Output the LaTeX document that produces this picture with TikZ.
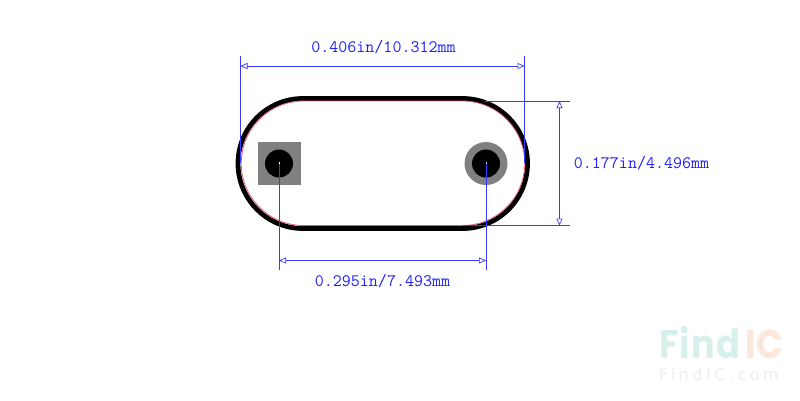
\documentclass[tikz,border=0pt]{standalone}
\usepackage{fontspec}
\usetikzlibrary{arrows.meta}
\newfontfamily\wmbold[LetterSpace=4]{Poppins Bold}
\newfontfamily\wmthin[LetterSpace=22]{DejaVu Sans}
\definecolor{dimblue}{RGB}{56,56,255}
\definecolor{dimtext}{RGB}{30,30,255}
\definecolor{padgray}{RGB}{128,128,128}
\definecolor{silk}{RGB}{226,90,120}
\definecolor{wmteal}{RGB}{216,240,236}
\definecolor{wmorange}{RGB}{252,232,218}
\definecolor{wmgray}{RGB}{238,238,238}
\tikzset{
  x=1pt,y=-1pt,
  dimline/.style={draw=dimblue,line width=0.9pt,{Triangle[open,length=7pt,width=6pt,line width=0.7pt]}-{Triangle[open,length=7pt,width=6pt,line width=0.7pt]}},
  extline/.style={draw=dimblue,line width=0.8pt},
  dimlabel/.style={text=dimtext,font=\ttfamily\fontsize{17.5}{17}\selectfont,inner sep=0pt,anchor=center},
  wmlogo/.style={font=\wmbold\fontsize{40}{40}\selectfont,inner sep=0pt,anchor=base west,text height=30pt,text depth=0pt,xscale=0.88,transform shape},
  outline/.style={draw=black,line width=4.8pt},
  courtyard/.style={draw=silk,line width=0.8pt},
  padshape/.style={fill=padgray,draw=none},
  drillhole/.style={fill=black,draw=none,circle,minimum size=28pt,inner sep=0pt},
  padmark/.style={fill=white,draw=none,minimum width=1pt,minimum height=2pt,inner sep=0pt}
}
\begin{document}
\begin{tikzpicture}
\useasboundingbox (0,0) rectangle (800,400);
% watermark
\node[wmlogo,text=wmteal] (wmfind) at (659,358.5) {Find};
\node[wmlogo,text=wmorange] (wmic) at (745,358.5) {IC};
\node[text=wmgray,font=\wmthin\fontsize{16}{16}\selectfont,inner sep=0pt,anchor=center,text height=12pt,text depth=0pt] (wmurl) at (719,374) {FindIC.com};
% outlines
\draw[outline] (303,98.5) -- (462.5,98.5) arc[start angle=-90,end angle=90,radius=65] -- (303,228.5) arc[start angle=90,end angle=270,radius=65] -- cycle;
\draw[courtyard] (303.5,101) -- (462.5,101) arc[start angle=-90,end angle=90,radius=62.25] -- (303.5,225.5) arc[start angle=90,end angle=270,radius=62.25] -- cycle;
% pads
\node[padshape,minimum width=43.5pt,minimum height=43pt,inner sep=0pt] (padone) at (279.25,163.5) {};
\node[padshape,circle,minimum size=43pt,inner sep=0pt] (padtwo) at (486,163.5) {};
\node[drillhole] (holeone) at (279,163.5) {};
\node[drillhole] (holetwo) at (486,163.5) {};
% coordinates
\coordinate (wl) at (240.5,56);
\coordinate (wlb) at (240.5,163);
\coordinate (wr) at (524.5,56);
\coordinate (wrb) at (524.5,163);
\coordinate (wa) at (240.5,66);
\coordinate (wb) at (524.5,66);
\coordinate (ht) at (484,101);
\coordinate (hte) at (570,101);
\coordinate (hb) at (463,225.5);
\coordinate (hbe) at (570,225.5);
\coordinate (ha) at (559.5,101);
\coordinate (hc) at (559.5,225.5);
\coordinate (pl) at (279,163.5);
\coordinate (ple) at (279,270);
\coordinate (pr) at (486,163.5);
\coordinate (pre) at (486,270);
\coordinate (pa) at (279,260.5);
\coordinate (pb) at (486,260.5);
% extension lines
\draw[extline] (wl) -- (wlb);
\draw[extline] (wr) -- (wrb);
\draw[extline] (ht) -- (hte);
\draw[extline] (hb) -- (hbe);
\draw[extline] (pl) -- (ple);
\draw[extline] (pr) -- (pre);
% dimensions
\draw[dimline] (wa) -- (wb);
\draw[dimline] (ha) -- (hc);
\draw[dimline] (pa) -- (pb);
\node[padmark] (markone) at (279,162.5) {};
\node[padmark,fill=lightgray] (marktwo) at (486.5,162.5) {};
% labels
\node[dimlabel] (lwidth) at (383.5,47.5) {0.406in/10.312mm};
\node[dimlabel] (lheight) at (641.5,163.5) {0.177in/4.496mm};
\node[dimlabel] (lpitch) at (382.5,281) {0.295in/7.493mm};
\end{tikzpicture}
\end{document}
